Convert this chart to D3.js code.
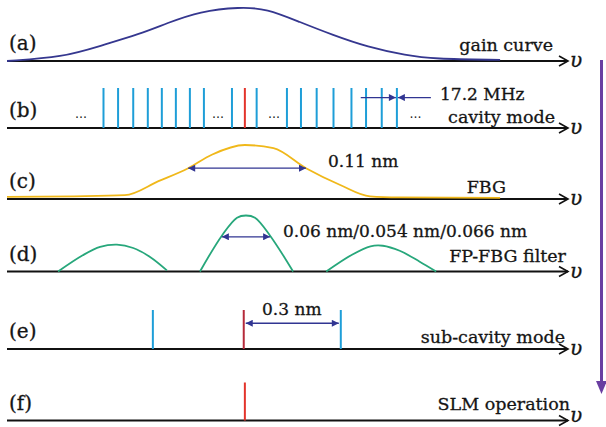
<!DOCTYPE html>
<html>
<head>
<meta charset="utf-8">
<script src="https://cdn.jsdelivr.net/npm/d3@7"></script>
<style>
  html, body { margin: 0; padding: 0; background: #fff; }
  svg text { font-family: "DejaVu Serif", "Liberation Serif", serif; fill: #151515; stroke: #151515; stroke-width: 0.3; }
</style>
</head>
<body>
<svg id="chart" width="606" height="427"></svg>
<script>
// Normalised optical frequency (0..100) along every axis, amplitude 0..1 per panel.
const panelLetters = ["(a)", "(b)", "(c)", "(d)", "(e)", "(f)"];
const panelNames = ["gain curve", "cavity mode", "FBG", "FP-FBG filter", "sub-cavity mode", "SLM operation"];

// (a) gain spectrum
const gainCurve = [
  [0, 0], [10, 0.07], [16.6, 0.28], [23.7, 0.50], [28.5, 0.70], [34.4, 0.92],
  [41.5, 1.0], [46.3, 0.97], [52.2, 0.72], [58.1, 0.48], [64.2, 0.26],
  [71.3, 0.10], [75.9, 0.04], [87.9, 0.02]
];

// (b) longitudinal cavity modes; the lasing one is marked
const cavityModes = [17.2, 19.8, 22.5, 25.1, 27.6, 30.1, 32.6, 35.1, 40.1, 44.5,
  49.9, 52.4, 55.2, 58.2, 61.4, 64.0, 66.8, 69.5];
const lasingMode = 42.4;
const cavityEllipses = [13.2, 37.6, 47.6, 72.8];
const modeSpacingMarks = [64.0, 66.8, 69.5];
const modeSpacingLabel = "17.2 MHz";

// (c) FBG reflection spectrum
const fbgCurve = [
  [0, 0.04], [12, 0.05], [21, 0.07], [27, 0.33], [32.3, 0.57], [36.5, 0.82],
  [42.4, 1.0], [47.5, 0.94], [53.3, 0.57], [59.4, 0.26], [64.7, 0.05],
  [70, 0.03], [87.9, 0.02]
];
const fbgFwhm = [32.3, 53.3, 0.57];
const fbgLabel = "0.11 nm";

// (d) FP-FBG comb filter: three transmission peaks
const fpPeaks = [
  [[9.1, 0], [13.5, 0.29], [16.6, 0.44], [19.6, 0.48], [22.5, 0.42], [25.5, 0.26], [28.5, 0.02]],
  [[34.4, 0], [38.3, 0.64], [41, 0.96], [42.6, 1.0], [44.2, 0.96], [46.9, 0.64], [51, 0]],
  [[56.9, 0], [61.5, 0.3], [64.8, 0.45], [67, 0.46], [70, 0.37], [73.5, 0.18], [76.5, 0]]
];
const fpFwhm = [38.3, 46.9, 0.62];
const fpLabel = "0.06 nm/0.054 nm/0.066 nm";

// (e) sub-cavity modes
const subModes = [26.0, 59.5];
const subLasing = 42.2;
const subSpacingLabel = "0.3 nm";

// (f) single-longitudinal-mode output
const slmMode = 42.4;

const axisY = [61, 128, 199, 271.5, 349, 420.5];

const colors = {
  axis: "#111",
  gain: "#35378f",
  mode: "#1e9ed8",
  red: "#e3342b",
  darkRed: "#b52a3a",
  fbg: "#f0b81a",
  fp: "#27a77b",
  arrow: "#313592",
  flow: "#6a3ea1"
};

const svg = d3.select("#chart");
const x = d3.scaleLinear().domain([0, 100]).range([7, 568]);
const yFor = (i, h) => d3.scaleLinear().domain([0, 1]).range([axisY[i], axisY[i] - h]);

const defs = svg.append("defs");
defs.append("marker")
  .attr("id", "tri").attr("viewBox", "0 0 10 10")
  .attr("refX", 10).attr("refY", 5)
  .attr("markerWidth", 9).attr("markerHeight", 7)
  .attr("markerUnits", "userSpaceOnUse")
  .attr("orient", "auto-start-reverse")
  .append("path").attr("d", "M0,0 L10,5 L0,10 Z").attr("fill", colors.arrow);

// frequency axes with open arrowheads and the υ symbol
axisY.forEach((yy, i) => {
  const g = svg.append("g");
  g.append("line").attr("x1", x(0)).attr("x2", x(100)).attr("y1", yy).attr("y2", yy)
    .attr("stroke", colors.axis).attr("stroke-width", 2);
  g.append("path")
    .attr("d", `M${x(100) - 9},${yy - 5} L${x(100)},${yy} L${x(100) - 9},${yy + 5}`)
    .attr("fill", "none").attr("stroke", colors.axis).attr("stroke-width", 1.6);
  g.append("text").attr("x", 570).attr("y", Math.min(yy + 6, 422)).attr("font-size", 20)
    .attr("font-style", "italic").text("υ");
  g.append("text").attr("x", 9).attr("y", yy - 11).attr("font-size", 20).text(panelLetters[i]);
});

const nameRight = [553, 555, 506, 566, 565, 570];
const nameBase = [51, 123, 193, 262, 343, 410];
panelNames.forEach((t, i) => {
  svg.append("text").attr("x", nameRight[i]).attr("y", nameBase[i])
    .attr("text-anchor", "end").attr("font-size", 17.5).text(t);
});

const line = (sy) => d3.line().x(d => x(d[0])).y(d => sy(d[1])).curve(d3.curveMonotoneX);

// (a)
const ya = yFor(0, 54);
svg.append("path").datum(gainCurve).attr("d", line(ya).curve(d3.curveBasis))
  .attr("fill", "none").attr("stroke", colors.gain).attr("stroke-width", 1.8);

// (b)
const yb = yFor(1, 40);
svg.selectAll(".cmode").data(cavityModes).join("line")
  .attr("x1", d => x(d)).attr("x2", d => x(d)).attr("y1", yb(0)).attr("y2", yb(1))
  .attr("stroke", colors.mode).attr("stroke-width", 2);
svg.append("line").attr("x1", x(lasingMode)).attr("x2", x(lasingMode)).attr("y1", yb(0)).attr("y2", yb(1))
  .attr("stroke", colors.red).attr("stroke-width", 2);
svg.selectAll(".ell").data(cavityEllipses).join("text")
  .attr("x", d => x(d)).attr("y", yb(0.25)).attr("text-anchor", "middle")
  .attr("font-size", 12).style("stroke-width", 0).text("…");
const ys = yb(0.76);
svg.append("line").attr("x1", x(modeSpacingMarks[1]) - 21).attr("x2", x(modeSpacingMarks[2]) - 1)
  .attr("y1", ys).attr("y2", ys).attr("stroke", colors.arrow).attr("stroke-width", 1.3)
  .attr("marker-end", "url(#tri)");
svg.append("line").attr("x1", x(modeSpacingMarks[2]) + 34).attr("x2", x(modeSpacingMarks[2]) + 1)
  .attr("y1", ys).attr("y2", ys).attr("stroke", colors.arrow).attr("stroke-width", 1.3)
  .attr("marker-end", "url(#tri)");
svg.append("text").attr("x", 440).attr("y", 100).attr("font-size", 17).text(modeSpacingLabel);

// (c)
const yc = yFor(2, 54);
svg.append("path").datum(fbgCurve).attr("d", line(yc))
  .attr("fill", "none").attr("stroke", colors.fbg).attr("stroke-width", 1.8);
svg.append("line").attr("x1", x(fbgFwhm[0])).attr("x2", x(fbgFwhm[1]))
  .attr("y1", yc(fbgFwhm[2])).attr("y2", yc(fbgFwhm[2]))
  .attr("stroke", colors.arrow).attr("stroke-width", 1.3)
  .attr("marker-start", "url(#tri)").attr("marker-end", "url(#tri)");
svg.append("text").attr("x", 328).attr("y", 167).attr("font-size", 17).text(fbgLabel);

// (d)
const yd = yFor(3, 56);
fpPeaks.forEach(p => {
  svg.append("path").datum(p).attr("d", line(yd).curve(d3.curveCatmullRom))
    .attr("fill", "none").attr("stroke", colors.fp).attr("stroke-width", 1.8);
});
svg.append("line").attr("x1", x(fpFwhm[0])).attr("x2", x(fpFwhm[1]))
  .attr("y1", yd(fpFwhm[2])).attr("y2", yd(fpFwhm[2]))
  .attr("stroke", colors.arrow).attr("stroke-width", 1.3)
  .attr("marker-start", "url(#tri)").attr("marker-end", "url(#tri)");
svg.append("text").attr("x", 283).attr("y", 237).attr("font-size", 17).text(fpLabel);

// (e)
const ye = yFor(4, 39);
svg.selectAll(".smode").data(subModes).join("line")
  .attr("x1", d => x(d)).attr("x2", d => x(d)).attr("y1", ye(0)).attr("y2", ye(1))
  .attr("stroke", colors.mode).attr("stroke-width", 2);
svg.append("line").attr("x1", x(subLasing)).attr("x2", x(subLasing)).attr("y1", ye(0)).attr("y2", ye(1))
  .attr("stroke", colors.darkRed).attr("stroke-width", 2);
svg.append("line").attr("x1", x(subLasing) + 2).attr("x2", x(subModes[1]) - 2)
  .attr("y1", ye(0.66)).attr("y2", ye(0.66))
  .attr("stroke", colors.arrow).attr("stroke-width", 1.3)
  .attr("marker-start", "url(#tri)").attr("marker-end", "url(#tri)");
svg.append("text").attr("x", 262).attr("y", 315).attr("font-size", 17).text(subSpacingLabel);

// (f)
const yf = yFor(5, 38);
svg.append("line").attr("x1", x(slmMode)).attr("x2", x(slmMode)).attr("y1", yf(0)).attr("y2", yf(1))
  .attr("stroke", colors.red).attr("stroke-width", 2);

// process-flow arrow on the right
svg.append("line").attr("x1", 601.5).attr("x2", 601.5).attr("y1", 60).attr("y2", 382)
  .attr("stroke", colors.flow).attr("stroke-width", 3);
svg.append("path").attr("d", "M596,381 L607,381 L601.5,394 Z").attr("fill", colors.flow);
</script>
</body>
</html>
